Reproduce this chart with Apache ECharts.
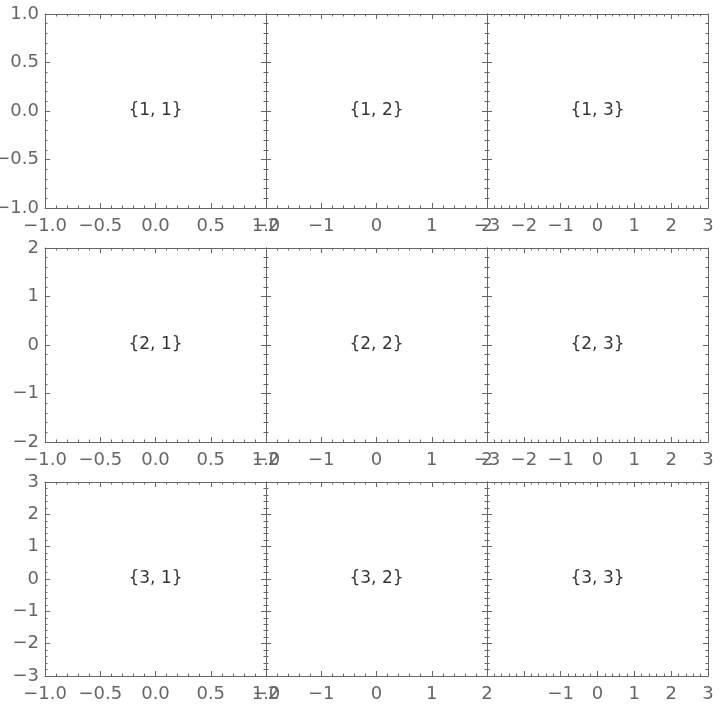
<!DOCTYPE html><html><head><meta charset="utf-8">
<script src="https://cdn.jsdelivr.net/npm/echarts@6/dist/echarts.min.js"></script>
<style>html,body{margin:0;background:#fff}#c{width:720px;height:712px}</style></head><body><div id="c"></div>
<script>
const colRanges=[1,2,3];
const rowRanges=[1,2,3];
const colIntervals=[0.5,1,1];
const rowIntervals=[0.5,1,1];
const cellLabels=[["{1, 1}","{1, 2}","{1, 3}"],["{2, 1}","{2, 2}","{2, 3}"],["{3, 1}","{3, 2}","{3, 3}"]];
const lefts=[45,266,487], tops=[14,248,482], W=221, H=194;
const grid=[],xAxis=[],yAxis=[],series=[];
const lc='#666';
function fmt(v,dec){let s=dec?v.toFixed(1):String(Math.round(v));return s.replace('-','\u2212');}
let g=0;
for(let r=0;r<3;r++)for(let c=0;c<3;c++){
  grid.push({left:lefts[c],top:tops[r],width:W,height:H,outerBoundsMode:'none',containLabel:false});
  const xr=colRanges[c],yr=rowRanges[r],xi=colIntervals[c],yi=rowIntervals[r];
  const base={min:-xr,max:xr,interval:xi,gridIndex:g,axisLine:{show:true,onZero:false,lineStyle:{color:lc}},
    axisTick:{inside:true,length:5,lineStyle:{color:lc}},minorTick:{show:true,splitNumber:5,length:2.5,lineStyle:{color:lc}},splitLine:{show:false}};
  const hide3=(r===2&&c===2);
  xAxis.push(Object.assign({},base,{type:'value',position:'bottom',axisLabel:{color:lc,fontSize:18,margin:9,fontFamily:'DejaVu Sans',
    formatter:v=>(hide3&&v<-1.5)?'':fmt(v,xi<1)}}));
  xAxis.push(Object.assign({},base,{type:'value',position:'top',axisLabel:{show:false}}));
  const yb=Object.assign({},base,{min:-yr,max:yr,interval:yi,type:'value'});
  yAxis.push(Object.assign({},yb,{position:'left',axisLabel:{show:c===0,color:lc,fontSize:18,margin:6,fontFamily:'DejaVu Sans',formatter:v=>fmt(v,yi<1)}}));
  yAxis.push(Object.assign({},yb,{position:'right',axisLabel:{show:false}}));
  series.push({type:'scatter',xAxisIndex:2*g,yAxisIndex:2*g,symbolSize:0,silent:true,
    data:[[0,0]],label:{show:true,position:'inside',formatter:cellLabels[r][c],color:'#000',fontSize:17,fontFamily:'DejaVu Sans'}});
  g++;
}
const ch=echarts.init(document.getElementById('c'));
ch.setOption({animation:false,grid,xAxis,yAxis,series});
</script></body></html>
